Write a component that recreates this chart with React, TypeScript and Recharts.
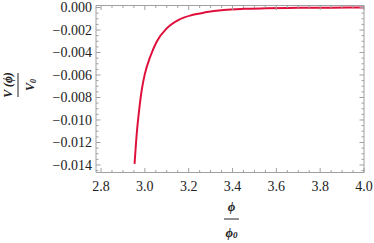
import { LineChart, Line, XAxis, YAxis, Label } from "recharts";

// potential curve
const phiValues = [2.953, 2.963, 2.974, 2.986, 3.0, 3.024, 3.055, 3.1, 3.154, 3.215, 3.276, 3.36, 3.45, 3.55, 3.7, 3.85, 4.0];
const potentialValues = [-0.0139, -0.0112, -0.0091, -0.0073, -0.0059, -0.0044, -0.003, -0.00185, -0.0011, -0.00067, -0.00043, -0.00022, -0.00012, -0.00007, -0.00003, -0.00001, 0];

const xMajorTicks = [2.8, 3.0, 3.2, 3.4, 3.6, 3.8, 4.0];
const xMinorTicks = [2.85, 2.9, 2.95, 3.05, 3.1, 3.15, 3.25, 3.3, 3.35, 3.45, 3.5, 3.55, 3.65, 3.7, 3.75, 3.85, 3.9, 3.95];
const yMajorTicks = [0, -0.002, -0.004, -0.006, -0.008, -0.01, -0.012, -0.014];
const yMinorTicks = [
  -0.0005, -0.001, -0.0015, -0.0025, -0.003, -0.0035, -0.0045, -0.005, -0.0055,
  -0.0065, -0.007, -0.0075, -0.0085, -0.009, -0.0095, -0.0105, -0.011, -0.0115,
  -0.0125, -0.013, -0.0135, -0.0145,
];

const data = phiValues.map((x, i) => ({ x, v: potentialValues[i] }));
const xTicks = [...xMajorTicks, ...xMinorTicks].sort((a, b) => a - b);
const yTicks = [...yMajorTicks, ...yMinorTicks].sort((a, b) => a - b);

const FRAME = "#a0a0a0";
const TEXT = "#222";
const FONT = "Liberation Serif";
const MAJOR = 4.5;
const MINOR = 2.5;

const isMajor = (v: number, arr: number[]) => arr.some((m) => Math.abs(m - v) < 1e-9);
const fmtY = (v: number) => (v < 0 ? "\u2212" + Math.abs(v).toFixed(3) : v.toFixed(3));

const BottomTick = ({ x, y, payload }: any) => {
  const major = isMajor(payload.value, xMajorTicks);
  return (
    <g>
      <line x1={x} x2={x} y1={y} y2={y - (major ? MAJOR : MINOR)} stroke={FRAME} />
      {major && (
        <text x={x} y={y + 18.5} textAnchor="middle" fill={TEXT} fontFamily={FONT} fontSize={14}>
          {payload.value.toFixed(1)}
        </text>
      )}
    </g>
  );
};

const TopTick = ({ x, y, payload }: any) => {
  const major = isMajor(payload.value, xMajorTicks);
  return <line x1={x} x2={x} y1={y} y2={y + (major ? MAJOR : MINOR)} stroke={FRAME} />;
};

const LeftTick = ({ x, y, payload }: any) => {
  const major = isMajor(payload.value, yMajorTicks);
  return (
    <g>
      <line x1={x} x2={x + (major ? MAJOR : MINOR)} y1={y} y2={y} stroke={FRAME} />
      {major && (
        <text x={x - 4} y={y} dy="0.35em" textAnchor="end" fill={TEXT} fontFamily={FONT} fontSize={14}>
          {fmtY(payload.value)}
        </text>
      )}
    </g>
  );
};

const RightTick = ({ x, y, payload }: any) => {
  const major = isMajor(payload.value, yMajorTicks);
  return <line x1={x} x2={x - (major ? MAJOR : MINOR)} y1={y} y2={y} stroke={FRAME} />;
};

const YTitle = ({ viewBox }: any) => {
  const cx = viewBox.x + 18;
  const cy = 85;
  return (
    <g transform={`translate(${cx}, ${cy}) rotate(-90)`} fill={TEXT} fontFamily={FONT} fontWeight="bold" fontStyle="italic">
      <text x={0} y={-6} textAnchor="middle" fontSize={12}>
        V (ϕ)
      </text>
      <line x1={-12} x2={12} y1={0} y2={0} stroke={TEXT} strokeWidth={1} />
      <text x={0} y={16} textAnchor="middle" fontSize={12}>
        V<tspan fontSize={8} dy={2}>0</tspan>
      </text>
    </g>
  );
};

const XTitle = ({ viewBox }: any) => {
  const cx = viewBox.x + viewBox.width / 2 + 1.5;
  const top = viewBox.y;
  return (
    <g fill={TEXT} fontFamily={FONT} fontWeight="bold" fontStyle="italic">
      <text x={cx} y={top + 38} textAnchor="middle" fontSize={13}>
        ϕ
      </text>
      <line x1={cx - 7.5} x2={cx + 7.5} y1={top + 46.5} y2={top + 46.5} stroke={TEXT} strokeWidth={1} />
      <text x={cx} y={top + 64} textAnchor="middle" fontSize={13}>
        ϕ<tspan fontSize={9} dy={1}>0</tspan>
      </text>
    </g>
  );
};

export default function App() {
  return (
    <div style={{ position: "absolute", left: 0, top: 0, width: 374, height: 243, background: "#fff" }}>
      <LineChart width={374} height={243} data={data} margin={{ top: 0, right: 0, bottom: 0, left: 0 }}>
        <XAxis
          xAxisId="b"
          dataKey="x"
          type="number"
          domain={[2.777, 4.0]}
          allowDataOverflow
          ticks={xTicks}
          interval={0}
          height={70.5}
          tickSize={0}
          tickMargin={0}
          tickLine={false}
          axisLine={{ stroke: FRAME }}
          tick={BottomTick}
        >
          <Label content={XTitle} />
        </XAxis>
        <XAxis
          xAxisId="t"
          orientation="top"
          dataKey="x"
          type="number"
          domain={[2.777, 4.0]}
          allowDataOverflow
          ticks={xTicks}
          interval={0}
          height={5.5}
          tickSize={0}
          tickMargin={0}
          tickLine={false}
          axisLine={{ stroke: FRAME }}
          tick={TopTick}
        />
        <YAxis
          yAxisId="l"
          type="number"
          domain={[-0.01467, 0.00018]}
          allowDataOverflow
          ticks={yTicks}
          interval={0}
          width={96}
          tickSize={0}
          tickMargin={0}
          tickLine={false}
          axisLine={{ stroke: FRAME }}
          tick={LeftTick}
        >
          <Label content={YTitle} />
        </YAxis>
        <YAxis
          yAxisId="r"
          orientation="right"
          type="number"
          domain={[-0.01467, 0.00018]}
          allowDataOverflow
          ticks={yTicks}
          interval={0}
          width={10}
          tickSize={0}
          tickMargin={0}
          tickLine={false}
          axisLine={{ stroke: FRAME }}
          tick={RightTick}
        />
        <Line
          xAxisId="b"
          yAxisId="l"
          type="monotone"
          dataKey="v"
          stroke="#e0103c"
          strokeWidth={2}
          dot={false}
          activeDot={false}
          isAnimationActive={false}
        />
      </LineChart>
    </div>
  );
}
